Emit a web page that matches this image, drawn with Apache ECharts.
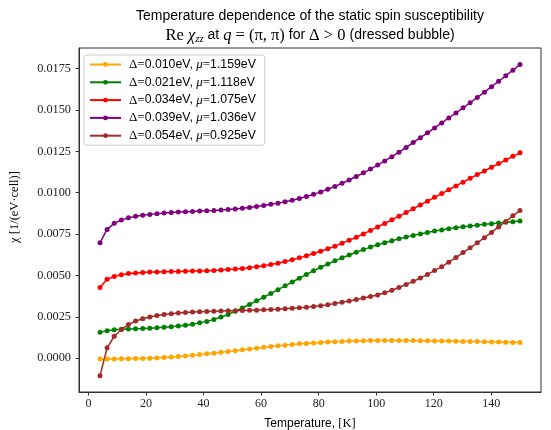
<!DOCTYPE html>
<html><head><meta charset="utf-8">
<script src="https://cdn.jsdelivr.net/npm/echarts@6/dist/echarts.min.js"></script>
<style>html,body{margin:0;padding:0;background:#fff}#c{width:551px;height:430px}</style>
</head><body><div id="c"></div>
<script>
const temperatures = [4.00,6.47,8.95,11.42,13.90,16.37,18.85,21.32,23.80,26.27,28.75,31.22,33.69,36.17,38.64,41.12,43.59,46.07,48.54,51.02,53.49,55.97,58.44,60.92,63.39,65.86,68.34,70.81,73.29,75.76,78.24,80.71,83.19,85.66,88.14,90.61,93.08,95.56,98.03,100.51,102.98,105.46,107.93,110.41,112.88,115.36,117.83,120.31,122.78,125.25,127.73,130.20,132.68,135.15,137.63,140.10,142.58,145.05,147.53,150.00];
const deltas = ['0.010','0.021','0.034','0.039','0.054'];
const mus = ['1.159','1.118','1.075','1.036','0.925'];
const colors = ['#FFA500','#008000','#FF0000','#800080','#A52A2A'];
const chiD010 = [-0.00006,-0.00005,-0.00005,-0.00004,-0.00004,-0.00003,-0.00002,-0.00001,0.00001,0.00003,
0.00006,0.00009,0.00013,0.00017,0.00021,0.00026,0.00030,0.00035,0.00040,0.00045,
0.00050,0.00055,0.00060,0.00065,0.00070,0.00074,0.00078,0.00082,0.00086,0.00089,
0.00092,0.00095,0.00097,0.00099,0.00101,0.00103,0.00104,0.00105,0.00106,0.00106,
0.00107,0.00107,0.00107,0.00106,0.00106,0.00105,0.00105,0.00104,0.00103,0.00103,
0.00102,0.00101,0.00100,0.00100,0.00099,0.00098,0.00097,0.00096,0.00095,0.00094];
const chiD021 = [0.00157,0.00166,0.00171,0.00174,0.00176,0.00178,0.00179,0.00181,0.00183,0.00186,
0.00190,0.00194,0.00199,0.00205,0.00213,0.00222,0.00234,0.00248,0.00264,0.00283,
0.00303,0.00324,0.00346,0.00368,0.00391,0.00414,0.00437,0.00460,0.00483,0.00506,
0.00528,0.00549,0.00569,0.00588,0.00606,0.00623,0.00640,0.00656,0.00671,0.00685,
0.00698,0.00710,0.00721,0.00732,0.00742,0.00751,0.00760,0.00768,0.00775,0.00782,
0.00788,0.00794,0.00799,0.00804,0.00809,0.00813,0.00817,0.00821,0.00825,0.00829];
const chiD034 = [0.00427,0.00477,0.00493,0.00504,0.00511,0.00515,0.00518,0.00520,0.00521,0.00522,
0.00523,0.00524,0.00525,0.00526,0.00527,0.00528,0.00530,0.00532,0.00535,0.00538,
0.00542,0.00547,0.00553,0.00559,0.00566,0.00574,0.00584,0.00595,0.00606,0.00619,
0.00632,0.00646,0.00661,0.00677,0.00695,0.00712,0.00731,0.00751,0.00772,0.00793,
0.00814,0.00836,0.00858,0.00880,0.00903,0.00926,0.00949,0.00972,0.00995,0.01018,
0.01041,0.01064,0.01087,0.01110,0.01132,0.01154,0.01176,0.01198,0.01220,0.01241];
const chiD039 = [0.00698,0.00778,0.00815,0.00835,0.00848,0.00857,0.00864,0.00869,0.00873,0.00877,
0.00880,0.00883,0.00885,0.00887,0.00889,0.00891,0.00893,0.00896,0.00899,0.00902,
0.00906,0.00911,0.00917,0.00923,0.00930,0.00937,0.00945,0.00955,0.00965,0.00977,
0.00990,0.01005,0.01021,0.01038,0.01057,0.01077,0.01098,0.01120,0.01143,0.01167,
0.01192,0.01218,0.01245,0.01273,0.01304,0.01333,0.01362,0.01392,0.01422,0.01452,
0.01482,0.01513,0.01544,0.01576,0.01608,0.01641,0.01674,0.01707,0.01741,0.01775];
const chiD054 = [-0.00107,0.00062,0.00132,0.00173,0.00203,0.00224,0.00238,0.00249,0.00257,0.00263,
0.00268,0.00272,0.00275,0.00278,0.00280,0.00282,0.00284,0.00285,0.00286,0.00287,
0.00288,0.00289,0.00290,0.00292,0.00294,0.00296,0.00298,0.00301,0.00304,0.00308,
0.00312,0.00317,0.00323,0.00330,0.00337,0.00345,0.00354,0.00364,0.00372,0.00382,
0.00395,0.00410,0.00427,0.00445,0.00464,0.00484,0.00506,0.00529,0.00553,0.00580,
0.00608,0.00638,0.00667,0.00697,0.00728,0.00760,0.00793,0.00826,0.00860,0.00893];
const seriesValues = [chiD010, chiD021, chiD034, chiD039, chiD054];
const xTicks = [0,20,40,60,80,100,120,140];
const yTicks = [0,0.0025,0.005,0.0075,0.01,0.0125,0.015,0.0175];

const SANS = '"Liberation Sans", "DejaVu Sans", sans-serif';
const SERIF = '"Liberation Serif", "DejaVu Serif", serif';
const names = deltas.map((d, i) => 'Δ=' + d + 'eV, μ=' + mus[i] + 'eV');

const chart = echarts.init(document.getElementById('c'), null, {renderer: 'canvas'});
const option = {
  backgroundColor: '#fff',
  animation: false,
  title: {
    left: 310, top: 7, textAlign: 'center', padding: 0,
    text: '{s|Temperature dependence of the static spin susceptibility}\n{m|Re }{mi|χ}{sub|zz}{s| at }{mi|q}{m| = (π, π)}{s| for }{m|Δ > 0 }{s|(dressed bubble)}',
    textStyle: {
      fontWeight: 'normal',
      rich: {
        s: {fontFamily: SANS, fontSize: 14, fontWeight: 'normal', color: '#000', lineHeight: 19},
        m: {fontFamily: SERIF, fontSize: 16.5, fontWeight: 'normal', color: '#000', lineHeight: 19},
        mi: {fontFamily: SERIF, fontStyle: 'italic', fontWeight: 'normal', fontSize: 16.5, color: '#000', lineHeight: 19},
        sub: {fontFamily: SERIF, fontStyle: 'italic', fontWeight: 'normal', fontSize: 11, color: '#000', lineHeight: 19, padding: [7, 0, 0, 0]}
      }
    }
  },
  legend: {
    orient: 'vertical', left: 84, top: 55,
    padding: [3, 9, 3, 5],
    itemWidth: 31, itemHeight: 6, itemGap: 4.8,
    backgroundColor: 'rgba(255,255,255,0.8)',
    borderColor: '#cccccc', borderWidth: 1, borderRadius: 3,
    data: names,
    formatter: function (name) {
      const i = names.indexOf(name);
      return '{m|Δ=}{t|' + deltas[i] + 'eV, }{mi|μ}{m|=}{t|' + mus[i] + 'eV}';
    },
    textStyle: {
      padding: [0, 0, 0, 3],
      rich: {
        t: {fontFamily: SANS, fontSize: 12.3, color: '#000', lineHeight: 14},
        m: {fontFamily: SERIF, fontSize: 13, color: '#000', lineHeight: 14},
        mi: {fontFamily: SERIF, fontStyle: 'italic', fontSize: 13, color: '#000', lineHeight: 14}
      }
    }
  },
  grid: {left: 79, right: 10, top: 48, bottom: 38, show: true, borderColor: '#333', borderWidth: 1, containLabel: false, outerBoundsMode: 'none'},
  xAxis: {
    type: 'value', min: -3.3, max: 157.3,
    name: '{s|Temperature, }{m|[K]}', nameLocation: 'middle', nameGap: 25,
    nameTextStyle: {rich: {s: {fontFamily: SANS, fontSize: 12, color: '#000'}, m: {fontFamily: SERIF, fontSize: 12.5, color: '#000'}}},
    axisLine: {show: true, onZero: false, lineStyle: {color: '#333', width: 1}},
    axisTick: {show: true, inside: false, length: 3.5, customValues: xTicks, lineStyle: {color: '#333'}},
    axisLabel: {customValues: xTicks, margin: 6, fontFamily: SERIF, fontSize: 12, color: '#222'},
    splitLine: {show: false}
  },
  yAxis: {
    type: 'value', min: -0.00205, max: 0.01875,
    name: 'χ [1/(eV·cell)]', nameLocation: 'middle', nameGap: 58, nameRotate: 90,
    nameTextStyle: {fontFamily: SERIF, fontSize: 12.5, color: '#000', padding: [0, 0, 0, 26]},
    axisLine: {show: true, onZero: false, lineStyle: {color: '#333', width: 1}},
    axisTick: {show: true, inside: false, length: 3.5, customValues: yTicks, lineStyle: {color: '#333'}},
    axisLabel: {customValues: yTicks, margin: 8, fontFamily: SERIF, fontSize: 12.3, color: '#222',
      formatter: v => v.toFixed(4)},
    splitLine: {show: false}
  },
  series: seriesValues.map((vals, i) => ({
    type: 'line', name: names[i],
    data: temperatures.map((t, k) => [t, vals[k]]),
    symbol: 'circle', symbolSize: 5, showSymbol: true,
    itemStyle: {color: colors[i]},
    lineStyle: {color: colors[i], width: 1.5},
    emphasis: {disabled: true}
  }))
};
chart.setOption(option);
</script></body></html>
